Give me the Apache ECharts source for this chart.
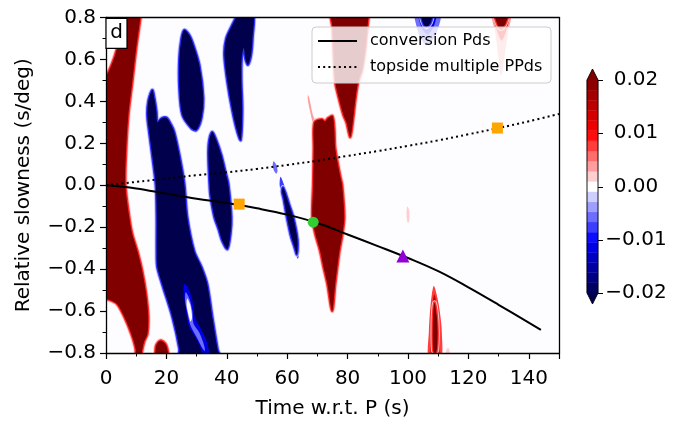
<!DOCTYPE html>
<html><head><meta charset="utf-8">
<script src="https://cdn.jsdelivr.net/npm/echarts@6/dist/echarts.min.js"></script>
<style>html,body{margin:0;padding:0;background:#fff}#c{width:677px;height:425px}</style>
</head><body><div id="c"></div>
<script>
// ---------------- data ----------------
const FONT = 'DejaVu Sans';
const xTickInterval = 20;
const yTickInterval = 0.2;

// theoretical moveout curves (time s, relative slowness s/deg)
const conversionPds = [[0,0],[10,-0.015],[20,-0.04],[30,-0.064],[40,-0.085],[50,-0.11],[60,-0.14],[70,-0.18],[80,-0.235],[90,-0.29],[100,-0.347],[110,-0.41],[120,-0.487],[130,-0.57],[144,-0.69]];
const topsidePPds = [[0,0],[10,0.016],[20,0.032],[30,0.048],[40,0.062],[50,0.078],[60,0.097],[70,0.117],[80,0.14],[90,0.163],[100,0.188],[110,0.214],[120,0.243],[130,0.273],[140,0.305],[150,0.34]];
const squareMarkers = [[44.1,-0.09],[129.6,0.273]];
const circleMarkers = [[68.6,-0.176]];
const triangleMarkers = [[98.3,-0.338]];

// contour levels of the colour scale
const cbarLevels = [-0.02,-0.0181,-0.01619,-0.01429,-0.01238,-0.01048,-0.00857,-0.00667,-0.00476,-0.00286,-0.00095,0.00095,0.00286,0.00476,0.00667,0.00857,0.01048,0.01238,0.01429,0.01619,0.0181,0.02];
const cbarTicks = [-0.02,-0.01,0,0.01,0.02];

// contour regions (outline in time/slowness, value of the region)
const redLeft = [[7.4,0.83],[11.5,0.83],[11.4,0.8],[10.0,0.654],[8.7,0.492],[7.4,0.335],[6.7,0.177],[6.4,0.006],[7.7,-0.152],[8.7,-0.233],[10.4,-0.314],[12.0,-0.409],[13.3,-0.519],[14.0,-0.629],[13.7,-0.71],[12.7,-0.743],[11.8,-0.8],[11.6,-0.83],[10.0,-0.83],[9.8,-0.78],[8.4,-0.71],[6.1,-0.629],[3.7,-0.567],[1.4,-0.548],[-0.5,-0.543],[-3,-0.54],[-3,0.51],[-0.5,0.516],[0.8,0.54],[2.7,0.607],[3.7,0.654],[6.1,0.75],[7.2,0.8]];
const redSmallBottom = [[16.7,-0.83],[16.5,-0.77],[17.3,-0.748],[18.3,-0.741],[19.6,-0.755],[20.3,-0.78],[20.5,-0.83]];
const blueBody = [[15.3,0.454],[16.0,0.416],[16.7,0.35],[17.0,0.30],[18.3,0.318],[20.0,0.322],[21.5,0.29],[22.6,0.254],[24.3,0.144],[25.9,0.01],[26.9,-0.152],[29.2,-0.314],[31.6,-0.39],[33.5,-0.471],[35.2,-0.629],[36.9,-0.78],[37.6,-0.83],[24.4,-0.83],[24.3,-0.78],[22.0,-0.629],[18.6,-0.471],[17.0,-0.39],[16.8,-0.314],[16.8,-0.152],[16.5,0.0],[15.3,0.144],[14.3,0.254],[13.7,0.33],[14.0,0.40]];
const blueHoleOuter = [[25.9,-0.47],[27.2,-0.49],[28.6,-0.55],[29.4,-0.63],[31.2,-0.68],[33.2,-0.74],[34.2,-0.8],[34.0,-0.83],[32.0,-0.83],[31.2,-0.77],[29.4,-0.72],[27.4,-0.67],[26.3,-0.58],[25.7,-0.51]];
const blueHoleMid = [[26.4,-0.51],[27.6,-0.54],[28.6,-0.6],[29.0,-0.66],[30.8,-0.7],[32.2,-0.75],[32.8,-0.79],[32.0,-0.78],[30.2,-0.73],[28.0,-0.67],[26.8,-0.6],[26.2,-0.55]];
const blueHoleCore = [[26.9,-0.54],[27.9,-0.57],[28.5,-0.63],[28.0,-0.65],[27.2,-0.61],[26.7,-0.57]];
const blueOval = [[25.9,0.74],[27.4,0.72],[28.6,0.683],[30.9,0.573],[32.2,0.416],[31.6,0.321],[29.9,0.263],[28.2,0.273],[25.3,0.335],[24.3,0.464],[24.3,0.607],[25.0,0.70]];
const blueUpper = [[43.3,0.83],[48.6,0.83],[48.5,0.70],[48.0,0.62],[47.0,0.575],[46.2,0.60],[45.6,0.655],[44.9,0.60],[44.8,0.502],[45.1,0.359],[44.6,0.216],[43.5,0.254],[41.8,0.359],[40.2,0.492],[39.2,0.621],[39.8,0.70],[41.8,0.764],[43.0,0.80]];
const blueMid = [[35.2,0.254],[36.5,0.216],[38.2,0.144],[39.6,0.06],[40.5,0.006],[41.5,-0.152],[41.2,-0.233],[40.2,-0.304],[38.5,-0.266],[37.3,-0.21],[35.9,-0.152],[34.6,-0.05],[34.3,0.006],[33.9,0.144],[34.2,0.216]];
const redUpper = [[74.8,0.83],[87.1,0.83],[86.9,0.80],[86.2,0.70],[85.9,0.654],[84.8,0.55],[83.5,0.492],[82.5,0.40],[82.0,0.335],[80.9,0.230],[79.6,0.30],[78.6,0.335],[77.0,0.42],[75.9,0.492],[75.3,0.654],[75.0,0.75]];
const redCenterArm = [[66.9,0.43],[67.4,0.41],[68.4,0.34],[69.4,0.30],[68.7,0.29],[67.6,0.35],[66.8,0.41]];
const redCenter = [[69.0,0.30],[71.5,0.315],[72.5,0.305],[73.5,0.32],[75.0,0.33],[75.6,0.27],[75.9,0.177],[77.6,0.04],[78.2,0.0],[78.9,-0.152],[78.3,-0.233],[77.3,-0.314],[76.6,-0.39],[75.9,-0.471],[74.9,-0.60],[73.3,-0.471],[72.0,-0.39],[70.9,-0.314],[69.3,-0.233],[68.3,-0.152],[68.6,0.006],[68.8,0.177]];
const blueSmallLight = [[57.8,0.04],[59.0,0.0],[60.8,-0.09],[62.4,-0.152],[64.0,-0.26],[63.6,-0.35],[62.0,-0.30],[60.8,-0.25],[59.3,-0.152],[58.3,-0.06],[57.5,0.0]];
const blueSmall = [[58.6,-0.01],[59.5,-0.04],[60.6,-0.09],[62.0,-0.152],[63.4,-0.26],[63.2,-0.33],[62.3,-0.29],[61.2,-0.24],[59.9,-0.152],[58.9,-0.07],[58.3,-0.03]];
const blueFaint = [[55.5,0.115],[56.3,0.10],[56.8,0.07],[56.4,0.055],[55.6,0.07],[55.2,0.095]];
const blueTopOuter = [[102.3,0.83],[110.7,0.83],[109.8,0.74],[108,0.69],[106,0.67],[104.2,0.70],[102.8,0.76]];
const blueTopMid = [[103.5,0.83],[109.2,0.83],[108.6,0.76],[106.5,0.72],[104.6,0.75]];
const blueTopCore = [[104.4,0.83],[108.0,0.83],[107.5,0.775],[106,0.755],[104.8,0.78]];
const redTopOuter = [[127.8,0.83],[134.0,0.83],[133.0,0.72],[131.8,0.60],[130.8,0.52],[130.0,0.60],[129.0,0.72]];
const redTopMid = [[128.2,0.83],[133.6,0.83],[132.6,0.74],[131,0.69],[129.4,0.74]];
const redTopCore = [[128.6,0.83],[133.2,0.83],[132.4,0.775],[130.8,0.745],[129.4,0.775]];
const redLowerOuter = [[108.6,-0.48],[109.8,-0.54],[110.7,-0.62],[111.2,-0.70],[110.9,-0.83],[106.9,-0.83],[106.9,-0.70],[107.3,-0.60],[107.9,-0.52]];
const redLowerMid = [[108.7,-0.52],[109.6,-0.58],[110.3,-0.66],[110.4,-0.75],[110.0,-0.83],[107.8,-0.83],[107.6,-0.72],[107.9,-0.60]];
const redLowerCore = [[108.8,-0.56],[109.5,-0.62],[109.8,-0.70],[109.6,-0.78],[109.1,-0.80],[108.4,-0.79],[108.2,-0.70],[108.4,-0.60]];
const pinkDot1 = [[99.8,-0.10],[100.4,-0.12],[100.4,-0.17],[99.9,-0.18],[99.5,-0.14]];
const pinkDot2 = [[112.8,-0.78],[113.6,-0.78],[113.9,-0.83],[112.5,-0.83]];

const regions = [
  {pts: redLeft, v: 0.03},
  {pts: redSmallBottom, v: 0.03},
  {pts: blueBody, v: -0.03},
  {pts: blueHoleOuter, v: -0.012},
  {pts: blueHoleMid, v: -0.005},
  {pts: blueHoleCore, v: 0},
  {pts: blueOval, v: -0.03},
  {pts: blueUpper, v: -0.03},
  {pts: blueMid, v: -0.03},
  {pts: redUpper, v: 0.03},
  {pts: redCenterArm, v: 0.003},
  {pts: redCenter, v: 0.03},
  {pts: blueSmallLight, v: -0.008},
  {pts: blueSmall, v: -0.03},
  {pts: blueFaint, v: -0.005},
  {pts: blueTopOuter, v: -0.006},
  {pts: blueTopMid, v: -0.012},
  {pts: blueTopCore, v: -0.025},
  {pts: redTopOuter, v: 0.004},
  {pts: redTopMid, v: 0.012},
  {pts: redTopCore, v: 0.025},
  {pts: redLowerOuter, v: 0.008},
  {pts: redLowerMid, v: 0.016},
  {pts: redLowerCore, v: 0.025},
  {pts: pinkDot1, v: 0.002},
  {pts: pinkDot2, v: 0.002}
];

// ---------------- colour map (matplotlib "seismic") ----------------
function seismic(x) {
  x = Math.max(0, Math.min(1, x));
  let r, g, b;
  if (x < 0.25) { const t = x / 0.25; r = 0; g = 0; b = 0.3 + 0.7 * t; }
  else if (x < 0.5) { const t = (x - 0.25) / 0.25; r = t; g = t; b = 1; }
  else if (x < 0.75) { const t = (x - 0.5) / 0.25; r = 1; g = 1 - t; b = 1 - t; }
  else { const t = (x - 0.75) / 0.25; r = 1 - 0.5 * t; g = 0; b = 0; }
  return 'rgb(' + Math.round(r * 255) + ',' + Math.round(g * 255) + ',' + Math.round(b * 255) + ')';
}
const nBands = cbarLevels.length - 1;
function levelColor(v) {
  if (v >= cbarLevels[nBands]) return seismic(1);
  if (v < cbarLevels[0]) return seismic(0);
  for (let k = 0; k < nBands; k++) {
    if (v >= cbarLevels[k] && v < cbarLevels[k + 1]) return seismic((k + 0.5) / nBands);
  }
  return seismic(0.5);
}

// ---------------- chart ----------------
const chart = echarts.init(document.getElementById('c'), null, {renderer: 'canvas'});
const axisBlack = {color: '#000', width: 1.3};
const fmtSlow = v => (v < -1e-9 ? '\u2212' : '') + Math.abs(v).toFixed(1);
const fmtCbar = v => (v < -1e-9 ? '\u2212' : '') + Math.abs(v).toFixed(2);

function renderRegion(params, api) {
  const r = regions[api.value(2)];
  const pts = r.pts.map(p => api.coord(p));
  const sat = Math.abs(r.v) >= 0.02;
  const children = [];
  const sm = 0.3;
  if (sat) {
    const red = r.v > 0;
    children.push({type: 'polygon', shape: {points: pts, smooth: sm}, style: {fill: 'none', stroke: red ? '#ffc4c4' : '#c4c4ff', lineWidth: 4.5, lineJoin: 'round'}});
    children.push({type: 'polygon', shape: {points: pts, smooth: sm}, style: {fill: 'none', stroke: red ? '#ff2a2a' : '#3030ff', lineWidth: 2.6, lineJoin: 'round'}});
  }
  children.push({type: 'polygon', shape: {points: pts, smooth: sm}, style: {fill: levelColor(r.v), stroke: 'none'}});
  return {type: 'group', children: children};
}

// colour bar: bands, extension triangles, outline and ticks, all placed through the bar's value axis
function renderBand(params, api) {
  const lo = api.value(1), hi = api.value(2);
  const p0 = api.coord([0, lo]);
  const p1 = api.coord([1, hi]);
  const c = levelColor((lo + hi) / 2);
  return {type: 'rect', shape: {x: p0[0], y: p1[1], width: p1[0] - p0[0], height: p0[1] - p1[1]}, style: {fill: c, stroke: c, lineWidth: 0.4}};
}

function renderCbarFrame(params, api) {
  const lo = cbarLevels[0], hi = cbarLevels[nBands];
  const bl = api.coord([0, lo]), br = api.coord([1, lo]);
  const tl = api.coord([0, hi]), tr = api.coord([1, hi]);
  const ext = 11;
  const midX = (bl[0] + br[0]) / 2;
  const topTip = [midX, tl[1] - ext], botTip = [midX, bl[1] + ext];
  const children = [
    {type: 'polygon', shape: {points: [tl, tr, topTip]}, style: {fill: seismic(1)}},
    {type: 'polygon', shape: {points: [bl, br, botTip]}, style: {fill: seismic(0)}},
    {type: 'polygon', shape: {points: [bl, tl, topTip, tr, br, botTip]}, style: {fill: 'none', stroke: '#000', lineWidth: 0.9}}
  ];
  cbarTicks.forEach(t => {
    const p = api.coord([1, t]);
    const y = Math.round(p[1]) + 0.5;
    children.push({type: 'line', shape: {x1: p[0], y1: y, x2: p[0] + 5, y2: y}, style: {stroke: '#000', lineWidth: 1}});
  });
  return {type: 'group', children: children};
}

const hiddenAxisParts = {axisLine: {show: false, onZero: false}, axisTick: {show: false}, axisLabel: {show: false}, splitLine: {show: false}, minorTick: {show: false}, minorSplitLine: {show: false}};

const option = {
  animation: false,
  backgroundColor: '#fff',
  textStyle: {fontFamily: FONT},
  grid: [
    {left: 106, top: 17.5, width: 453, height: 335.5, show: true, backgroundColor: '#fdfdff', borderWidth: 0},
    {left: 587, top: 80, width: 11, height: 213, show: false}
  ],
  xAxis: [
    {gridIndex: 0, type: 'value', min: 0, max: 150, interval: xTickInterval, position: 'bottom', z: 10,
     axisLine: {show: true, onZero: false, lineStyle: axisBlack},
     axisTick: {show: true, inside: false, length: 6, lineStyle: {color: '#000', width: 1.2}},
     minorTick: {show: true, splitNumber: 2, length: 3.5, lineStyle: {color: '#000', width: 1}},
     splitLine: {show: false}, minorSplitLine: {show: false},
     axisLabel: {color: '#000', fontSize: 20, fontFamily: FONT, margin: 16},
     name: 'Time w.r.t. P (s)', nameLocation: 'middle', nameGap: 46,
     nameTextStyle: {color: '#000', fontSize: 20, fontFamily: FONT}},
    {gridIndex: 0, type: 'value', min: 0, max: 150, position: 'top', z: 10,
     axisLine: {show: true, onZero: false, lineStyle: axisBlack},
     axisTick: {show: false}, axisLabel: {show: false}, splitLine: {show: false}},
    Object.assign({gridIndex: 1, type: 'value', min: 0, max: 1, show: false}, hiddenAxisParts)
  ],
  yAxis: [
    {gridIndex: 0, type: 'value', min: -0.8, max: 0.8, interval: yTickInterval, position: 'left', z: 10,
     axisLine: {show: true, onZero: false, lineStyle: axisBlack},
     axisTick: {show: true, inside: false, length: 6, lineStyle: {color: '#000', width: 1.2}},
     minorTick: {show: true, splitNumber: 2, length: 3.5, lineStyle: {color: '#000', width: 1}},
     splitLine: {show: false}, minorSplitLine: {show: false},
     axisLabel: {color: '#000', fontSize: 20, fontFamily: FONT, margin: 10, formatter: fmtSlow},
     name: 'Relative slowness (s/deg)', nameLocation: 'middle', nameGap: 72,
     nameTextStyle: {color: '#000', fontSize: 20, fontFamily: FONT}},
    {gridIndex: 0, type: 'value', min: -0.8, max: 0.8, position: 'right', z: 10,
     axisLine: {show: true, onZero: false, lineStyle: axisBlack},
     axisTick: {show: false}, axisLabel: {show: false}, splitLine: {show: false}},
    {gridIndex: 1, type: 'value', min: cbarTicks[0], max: cbarTicks[cbarTicks.length - 1], interval: 0.01, position: 'right', z: 10,
     axisLine: {show: false, onZero: false}, axisTick: {show: false}, splitLine: {show: false}, minorTick: {show: false},
     axisLabel: {color: '#000', fontSize: 20, fontFamily: FONT, margin: 38, align: 'center', formatter: fmtCbar}}
  ],
  series: [
    {type: 'custom', name: 'field', xAxisIndex: 0, yAxisIndex: 0, clip: true, silent: true, z: 2,
     data: regions.map((r, i) => [r.pts[0][0], r.pts[0][1], i]),
     encode: {x: 0, y: 1}, renderItem: renderRegion},
    {type: 'line', name: 'conversion Pds', xAxisIndex: 0, yAxisIndex: 0, data: conversionPds, symbol: 'none', smooth: 0.4, z: 5, silent: true,
     lineStyle: {color: '#000', width: 2}},
    {type: 'line', name: 'topside multiple PPds', xAxisIndex: 0, yAxisIndex: 0, data: topsidePPds, symbol: 'none', smooth: 0.4, z: 5, silent: true,
     lineStyle: {color: '#000', width: 2, type: [2, 3.2], cap: 'butt'}},
    {type: 'scatter', xAxisIndex: 0, yAxisIndex: 0, data: squareMarkers, symbol: 'rect', symbolSize: 11, z: 6, silent: true,
     itemStyle: {color: '#ffa500', opacity: 1}},
    {type: 'scatter', xAxisIndex: 0, yAxisIndex: 0, data: circleMarkers, symbol: 'circle', symbolSize: 11, z: 6, silent: true,
     itemStyle: {color: '#32cd32', opacity: 1}},
    {type: 'scatter', xAxisIndex: 0, yAxisIndex: 0, data: triangleMarkers, symbol: 'triangle', symbolSize: 13, z: 6, silent: true,
     itemStyle: {color: '#9400d3', opacity: 1}},
    {type: 'custom', name: 'cbar', xAxisIndex: 2, yAxisIndex: 2, silent: true, z: 2,
     data: cbarLevels.slice(0, -1).map((lo, k) => [0.5, lo, cbarLevels[k + 1]]),
     encode: {x: 0, y: 1}, renderItem: renderBand},
    {type: 'custom', name: 'cbarFrame', xAxisIndex: 2, yAxisIndex: 2, silent: true, z: 3,
     data: [[0.5, 0.001]], encode: {x: 0, y: 1}, renderItem: renderCbarFrame}
  ],
  graphic: [
    {type: 'rect', z: 20, shape: {x: 312, y: 27, width: 239, height: 56, r: 4},
     style: {fill: 'rgba(255,255,255,0.8)', stroke: '#cccccc', lineWidth: 1}},
    {type: 'line', z: 21, shape: {x1: 318, y1: 41, x2: 357, y2: 41}, style: {stroke: '#000', lineWidth: 2}},
    {type: 'line', z: 21, shape: {x1: 318, y1: 67, x2: 357, y2: 67}, style: {stroke: '#000', lineWidth: 2, lineDash: [2, 3.2]}},
    {type: 'text', z: 21, x: 370, y: 41, style: {text: 'conversion Pds', fontSize: 16, fontFamily: FONT, fill: '#000', verticalAlign: 'middle', align: 'left'}},
    {type: 'text', z: 21, x: 370, y: 67, style: {text: 'topside multiple PPds', fontSize: 16, fontFamily: FONT, fill: '#000', verticalAlign: 'middle', align: 'left'}},
    {type: 'rect', z: 20, shape: {x: 106, y: 18.3, width: 21, height: 30}, style: {fill: '#fff', stroke: '#000', lineWidth: 1.2}},
    {type: 'text', z: 21, x: 116.5, y: 33, style: {text: 'd', fontSize: 20, fontFamily: FONT, fill: '#000', verticalAlign: 'middle', align: 'center'}}
  ]
};
chart.setOption(option);
</script>
</body></html>
